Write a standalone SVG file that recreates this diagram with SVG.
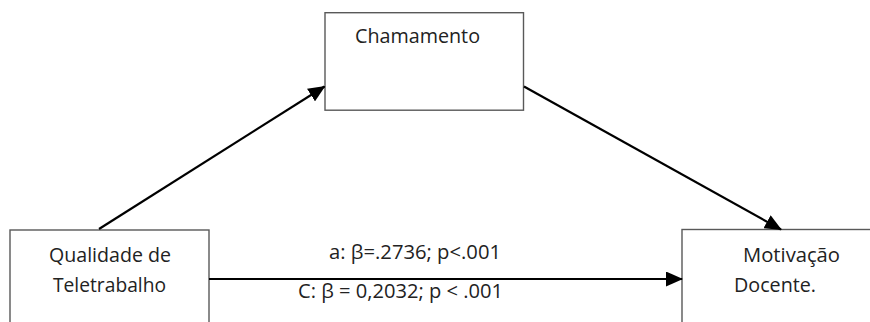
<svg xmlns="http://www.w3.org/2000/svg" width="870" height="322" viewBox="0 0 870 322">
<style>
.box{fill:#fff;stroke:#595959;stroke-width:1.4}
.lbl{font-family:"Open Sans","Noto Sans","Liberation Sans",sans-serif;font-size:19.5px;fill:#222}
.edge{stroke:#000;stroke-width:2.2;fill:none}
</style>
<defs>
<marker id="ah" markerUnits="userSpaceOnUse" markerWidth="17" markerHeight="15" refX="16" refY="7.5" orient="auto">
<path d="M0,0 L17,7.5 L0,15 Z" fill="#000"/>
</marker>
</defs>
<rect width="870" height="322" fill="#fff"/>
<g id="chamamento">
<rect class="box" x="325" y="12.7" width="198.5" height="97.5"/>
<text class="lbl" x="355" y="43" textLength="125" lengthAdjust="spacingAndGlyphs">Chamamento</text>
</g>
<g id="qualidade">
<rect class="box" x="10" y="230" width="199" height="100"/>
<text class="lbl" x="49" y="262" textLength="122" lengthAdjust="spacingAndGlyphs">Qualidade de</text>
<text class="lbl" x="53" y="292" textLength="113" lengthAdjust="spacingAndGlyphs">Teletrabalho</text>
</g>
<g id="motivacao">
<rect class="box" x="682" y="229.5" width="200" height="100"/>
<text class="lbl" x="743" y="262" textLength="97" lengthAdjust="spacingAndGlyphs">Motivação</text>
<text class="lbl" x="734" y="292" textLength="82" lengthAdjust="spacingAndGlyphs">Docente.</text>
</g>
<g id="connectors">
<line class="edge" x1="99" y1="229" x2="324.5" y2="86.5" marker-end="url(#ah)"/>
<line class="edge" x1="524" y1="86.5" x2="781" y2="229.5" marker-end="url(#ah)"/>
<line class="edge" x1="209" y1="279" x2="682" y2="279" marker-end="url(#ah)"/>
</g>
<g id="labels">
<text class="lbl" x="329" y="259" textLength="172" lengthAdjust="spacingAndGlyphs">a: β=.2736; p&lt;.001</text>
<text class="lbl" x="298" y="298" textLength="205" lengthAdjust="spacingAndGlyphs">C: β = 0,2032; p &lt; .001</text>
</g>
</svg>
